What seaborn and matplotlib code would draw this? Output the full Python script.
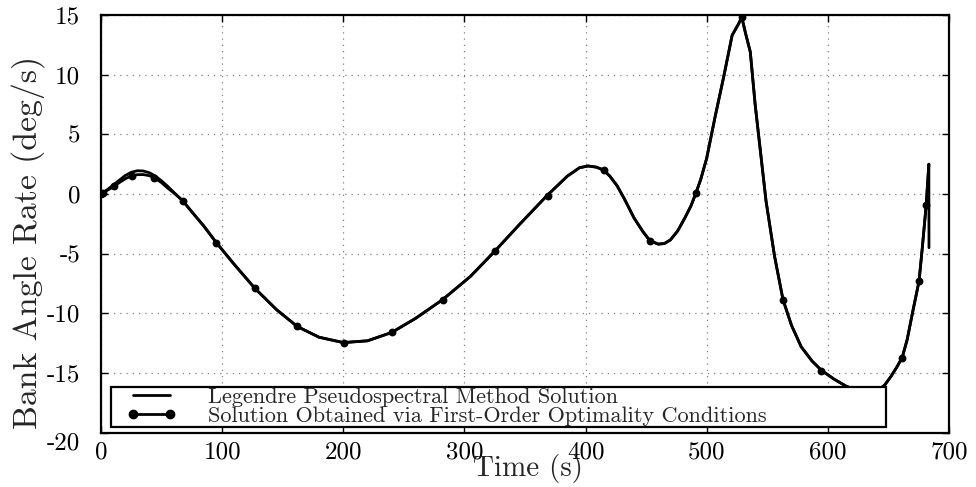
import numpy as np
import pandas as pd
import matplotlib
matplotlib.use("Agg")
import matplotlib.pyplot as plt
import seaborn as sns
from matplotlib.lines import Line2D
from matplotlib.legend_handler import HandlerLine2D

# ---------------- data ----------------
# Legendre pseudospectral solution (solid line)
t_lgr = [0, 5, 10, 15, 20, 25, 30, 35, 40, 45, 50, 55, 60, 67.8, 75, 85, 95,
         110, 127, 145, 162, 180, 200, 220, 240, 260, 282, 305, 325, 345, 368,
         385, 395, 402, 409, 415, 420, 426, 432, 440, 447, 453, 460, 465, 470,
         476, 482, 487, 491, 495, 500, 507, 514, 521, 526, 529, 532, 536, 540,
         545, 549, 556, 563, 570, 578, 587, 595, 605, 615, 630, 640, 647, 652,
         657, 661.4, 665.5, 670, 675.3, 678, 681.2, 683.4, 683.5]
rate_lgr = [0, 0.35, 0.75, 1.15, 1.55, 1.82, 1.95, 1.93, 1.78, 1.5, 1.1, 0.65,
            0.15, -0.6, -1.5, -2.7, -4.05, -5.9, -7.9, -9.7, -11.1, -12.0,
            -12.45, -12.3, -11.6, -10.4, -8.85, -6.9, -4.8, -2.6, -0.15, 1.5,
            2.2, 2.35, 2.25, 2.0, 1.5, 0.7, -0.4, -2.0, -3.1, -3.9, -4.2,
            -4.15, -3.85, -3.1, -2.0, -1.0, 0.05, 1.2, 3.0, 6.5, 9.8, 13.3,
            14.2, 14.8, 13.5, 11.9, 7.5, 3.0, -0.6, -5.2, -8.86, -11.0, -12.8,
            -14.0, -14.8, -15.5, -16.1, -16.7, -16.6, -16.0, -15.3, -14.5,
            -13.7, -12.2, -9.9, -7.3, -4.5, -0.9, 2.5, -4.5]

# first-order optimality conditions solution (line with nodes)
t_foc_start = [0, 2, 5, 10.7, 15, 20, 25.3, 30, 35, 40, 43.7, 50, 55, 60]
rate_foc_start = [0, 0.1, 0.3, 0.63, 0.95, 1.28, 1.53, 1.62, 1.63, 1.53, 1.38,
                  0.95, 0.5, 0.1]
t_foc_end = [681.2, 683.4]
rate_foc_end = [-0.93, 2.5]

t_nodes = [0, 2, 10.7, 25.3, 43.7, 67.8, 95, 127, 162, 201, 240.5, 282.6,
           325.6, 368.6, 414.9, 452.9, 491, 529, 563.3, 594.7, 629, 661.4,
           675.3, 681.2]
rate_nodes = [0, 0.1, 0.63, 1.53, 1.38, -0.6, -4.1, -7.9, -11.1, -12.45,
              -11.6, -8.85, -4.8, -0.15, 2.0, -3.9, 0.05, 14.8, -8.86, -14.8,
              -16.8, -13.7, -7.3, -0.93]

x_ticks = [0, 100, 200, 300, 400, 500, 600, 700]
y_ticks = [-20, -15, -10, -5, 0, 5, 10, 15]
labels = ["Legendre Pseudospectral Method Solution",
          "Solution Obtained via First-Order Optimality Conditions"]

# build frames
df_lgr = pd.DataFrame({"t": t_lgr, "rate": rate_lgr})
mid = [(t, r) for t, r in zip(t_lgr, rate_lgr) if 67 < t < 681]
df_foc = pd.DataFrame({
    "t": t_foc_start + [m[0] for m in mid] + t_foc_end,
    "rate": rate_foc_start + [m[1] for m in mid] + rate_foc_end})
df_nodes = pd.DataFrame({"t": t_nodes, "rate": rate_nodes})

# ---------------- style ----------------
sns.set_style("ticks")
plt.rcParams.update({
    "font.family": "cmr10",
    "mathtext.fontset": "cm",
    "axes.unicode_minus": False,
    "axes.formatter.use_mathtext": False,
})

fig = plt.figure(figsize=(9.76, 4.87), dpi=100)
ax = fig.add_axes([0.1035, 0.1115, 0.8688, 0.8577])

sns.lineplot(data=df_lgr, x="t", y="rate", sort=False, estimator=None,
             color="black", lw=2.0, ax=ax)
sns.lineplot(data=df_foc, x="t", y="rate", sort=False, estimator=None,
             color="black", lw=2.0, ax=ax)
sns.scatterplot(data=df_nodes, x="t", y="rate", color="black", s=32,
                edgecolor="black", linewidth=0, ax=ax, zorder=3)

ax.set_xlim(0, 700)
ax.set_ylim(-20, 15)
ax.set_xticks(x_ticks)
ax.set_xticklabels([str(v) for v in x_ticks])
ax.set_yticks(y_ticks)
ax.set_yticklabels([str(v) for v in y_ticks])
ax.tick_params(direction="in", length=5, width=1.0, top=True, right=True,
               labelsize=18, colors="black")
ax.tick_params(axis="y", pad=15)
ax.tick_params(axis="x", pad=6)
for sp in ax.spines.values():
    sp.set_visible(True)
    sp.set_linewidth(1.6)
    sp.set_color("black")
ax.grid(True, linestyle=(0, (1, 4)), color="0.5", lw=0.9)

ax.set_xlabel("Time (s)", fontsize=21, va="top")
ax.xaxis.set_label_coords(0.503, -0.05)
ax.set_ylabel("Bank Angle Rate (deg/s)", fontsize=24.3)
ax.yaxis.set_label_coords(-0.066, 0.456)


class ShiftedHandler(HandlerLine2D):
    """Line handle inset from the left edge of its handle box."""
    def __init__(self, inset, **kw):
        super().__init__(**kw)
        self.inset = inset

    def create_artists(self, legend, orig_handle, xdescent, ydescent,
                       width, height, fontsize, trans):
        return super().create_artists(legend, orig_handle,
                                      xdescent - self.inset, ydescent,
                                      width - self.inset, height, fontsize,
                                      trans)


h1 = Line2D([], [], color="black", lw=2.0)
h2 = Line2D([], [], color="black", lw=2.0, marker="o", markersize=6)
leg = ax.legend([h1, h2], labels, loc="lower left",
                bbox_to_anchor=(0.0114, 0.0144, 0.9146, 0.0981),
                mode="expand", fontsize=16, frameon=True, fancybox=False,
                framealpha=1, edgecolor="black", borderpad=0.02,
                labelspacing=0.0, handlelength=2.95, handletextpad=1.4,
                numpoints=2, borderaxespad=0,
                handler_map={h1: ShiftedHandler(11, numpoints=2),
                             h2: ShiftedHandler(11, numpoints=2)})
leg.get_frame().set_linewidth(1.6)
leg.set_zorder(10)

ax.get_yticklabels()[0].set_va("top")

fig.savefig("out.png", dpi=100)
